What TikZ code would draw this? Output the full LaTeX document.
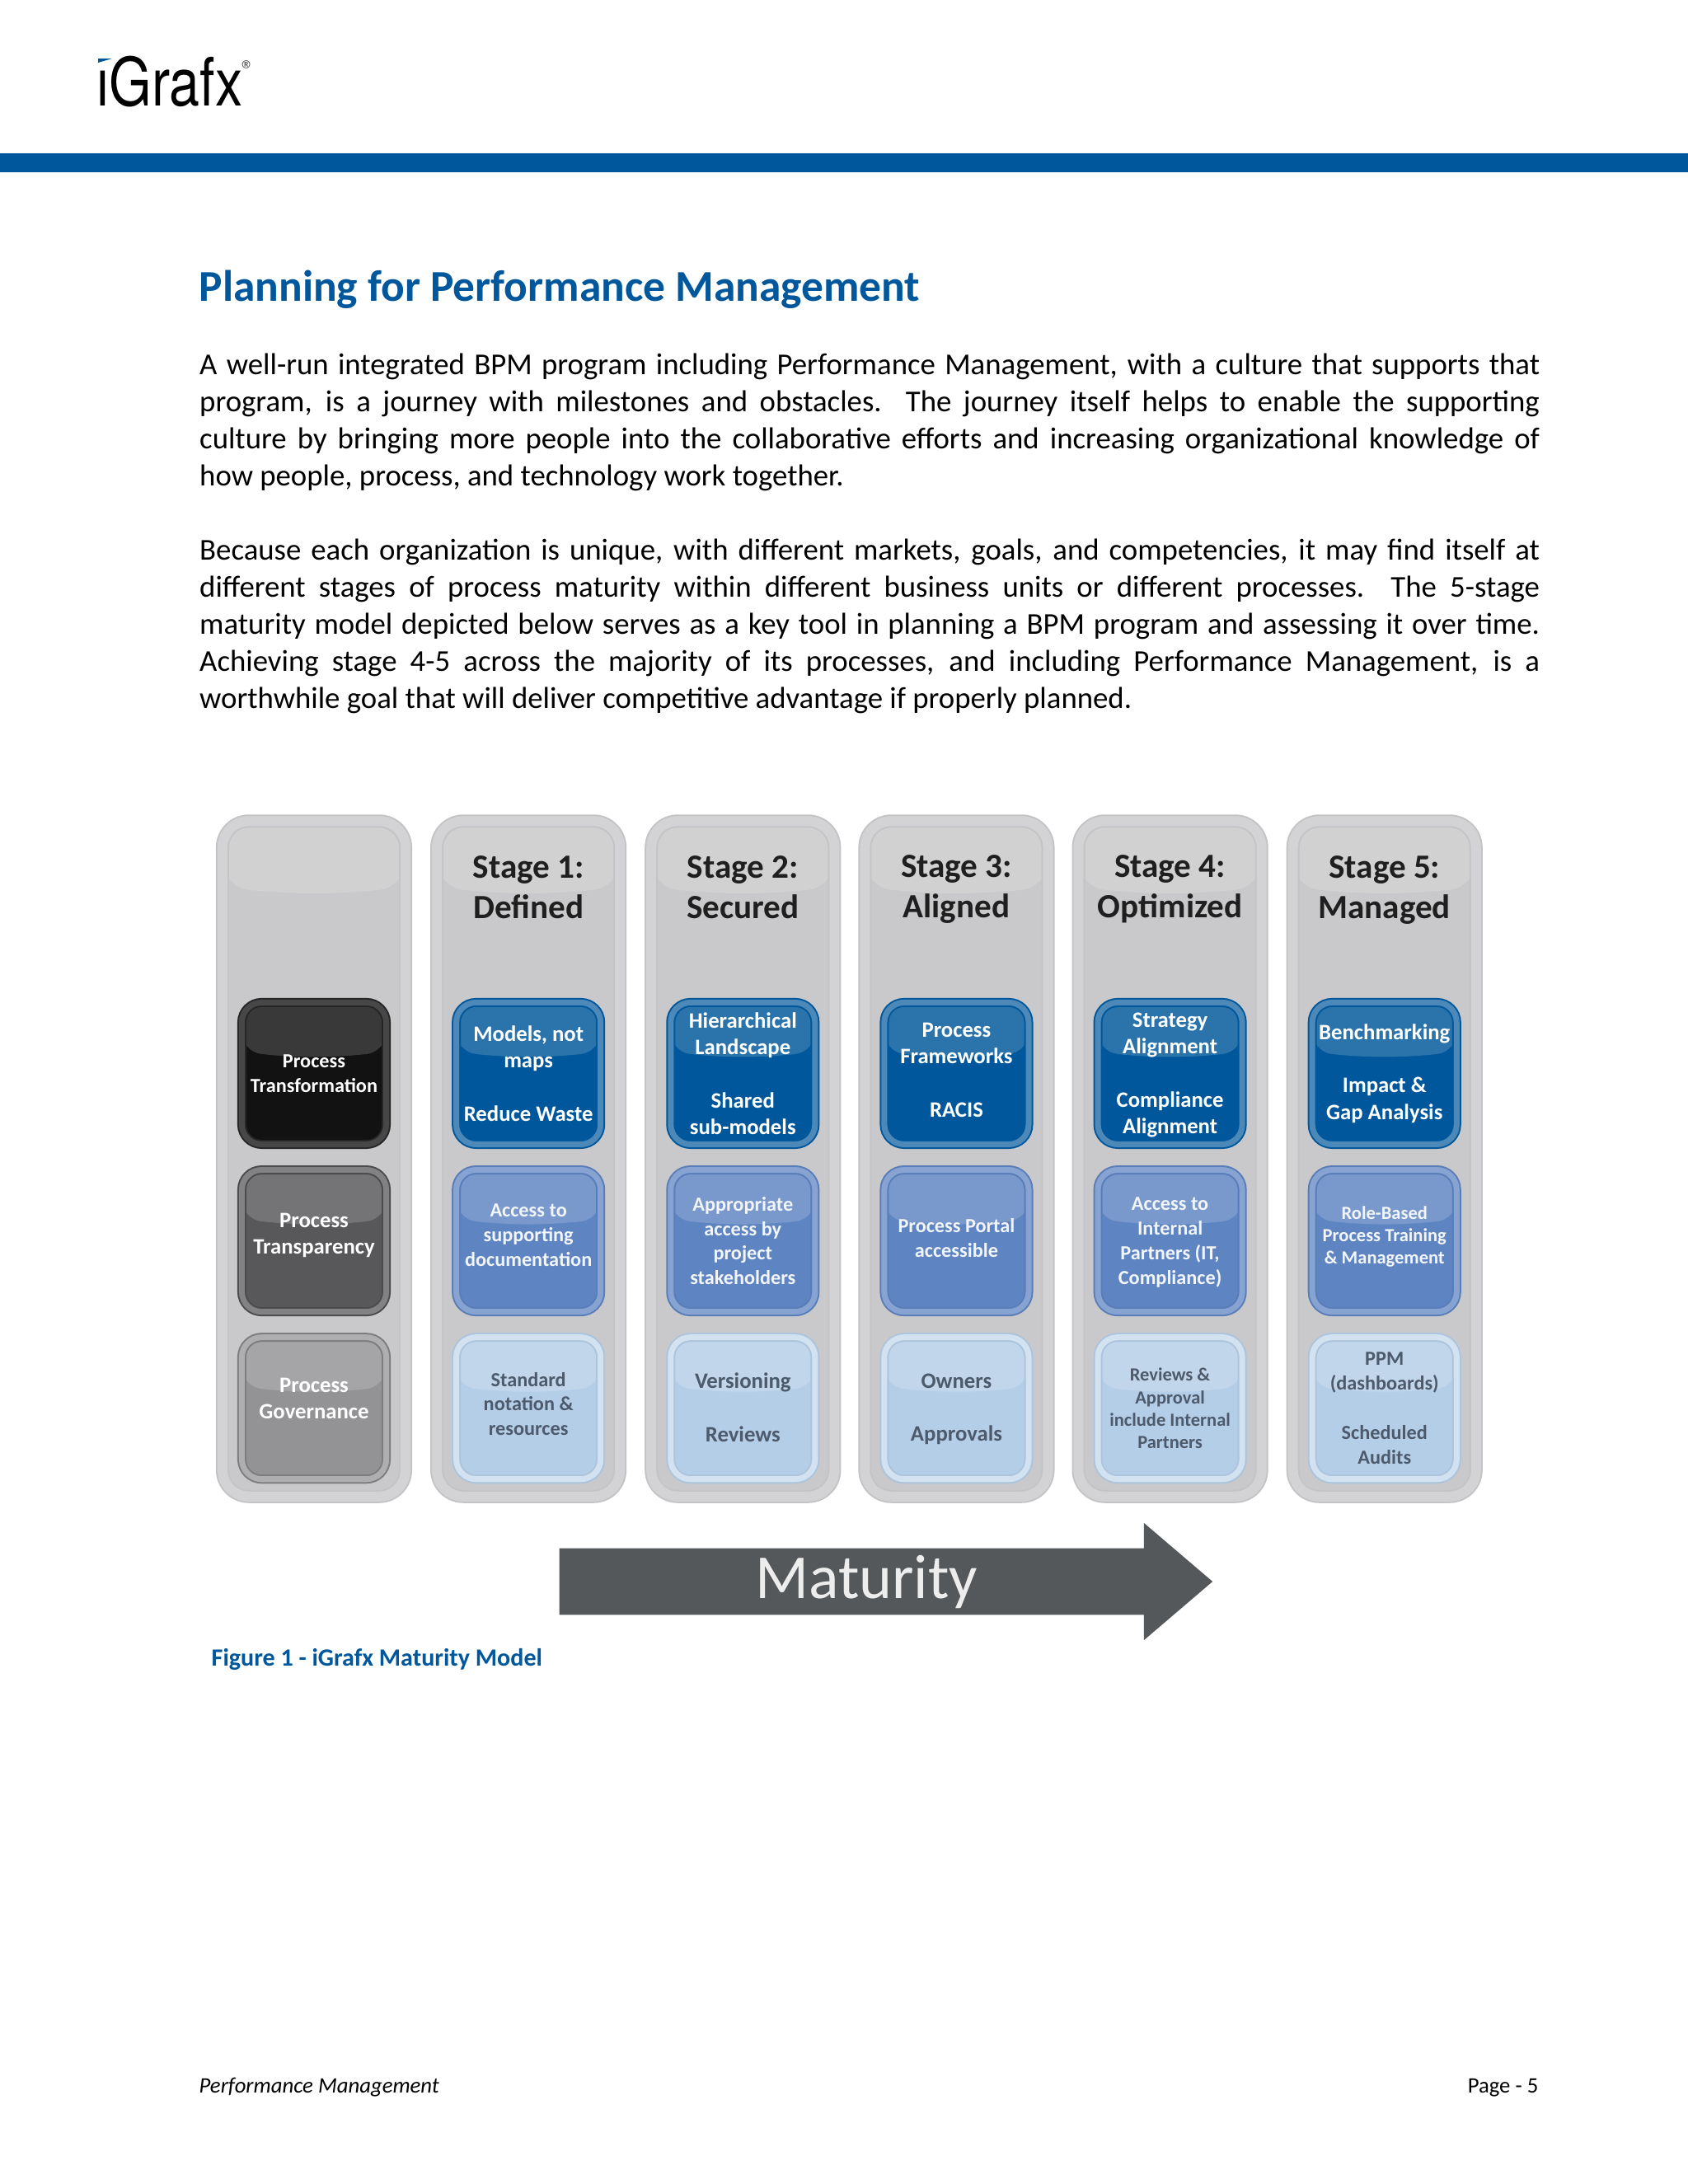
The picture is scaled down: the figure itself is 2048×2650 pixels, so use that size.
\documentclass[tikz,border=0pt]{standalone}
\usepackage{fontspec}
\setmainfont{Carlito}
\newfontfamily\logofont{TeX Gyre Heros}
\usetikzlibrary{positioning, shapes.arrows, calc}

\definecolor{brandblue}{HTML}{00579B}
\definecolor{colfill}{HTML}{C9C8CA}
\definecolor{colrim}{HTML}{D3D2D4}
\definecolor{coledge}{HTML}{C4C3C5}
\definecolor{arrowgrey}{HTML}{54585A}
\definecolor{midblue}{HTML}{5E84C2}
\definecolor{lowblue}{HTML}{B5CEE8}
\definecolor{lowtext}{HTML}{4C5A6B}
\definecolor{midgrey}{HTML}{58585B}
\definecolor{lowgrey}{HTML}{939396}

\begin{document}
\begin{tikzpicture}[
  x=0.01cm, y=-0.01cm,
  gloss/.style={path picture={
    \fill[white, opacity=0.17]
      (path picture bounding box.north west)
      -- ([yshift=-#1]path picture bounding box.north west)
      to[bend right=6] ([yshift=-#1]path picture bounding box.north east)
      -- (path picture bounding box.north east) -- cycle;}},
  stagecol/.style={draw=coledge, fill=colfill, line width=0.02cm, double=colrim, double distance=0.12cm,
    rounded corners=0.32cm, minimum width=2.22cm, minimum height=8.19cm, outer sep=0pt, gloss=0.8cm},
  cellbox/.style={line width=0.02cm, double distance=0.07cm, rounded corners=0.24cm,
    minimum width=1.75cm, minimum height=1.72cm, outer sep=0pt, inner sep=0pt, align=center, gloss=0.6cm},
  transform/.style={cellbox, draw=black!85, fill=black!93, double=black!72, text=white},
  transpar/.style={cellbox, draw=midgrey!85!black, fill=midgrey, double=midgrey!75!white, text=white, text depth=4.8pt},
  govern/.style={cellbox, draw=lowgrey!85!black, fill=lowgrey, double=lowgrey!75!white, text=white, text depth=6.8pt},
  bluecell/.style={cellbox, draw=brandblue, fill=brandblue, double=brandblue!70!white, text=white},
  midcell/.style={cellbox, draw=midblue!95!black, fill=midblue, double=midblue!75!white, text=white!92!midblue},
  lightcell/.style={cellbox, draw=lowblue!95!black, fill=lowblue, double=lowblue!60!white, text=lowtext, text depth=0pt},
  toplabel/.style={font=\fontsize{7.6}{9.2}\selectfont\bfseries},
  midlabel/.style={font=\fontsize{6.9}{8.5}\selectfont\bfseries},
  tinylabel/.style={font=\fontsize{6.4}{7.7}\selectfont\bfseries},
  stagehead/.style={font=\fontsize{11.7}{13.9}\selectfont\bfseries, text=black!88, align=center, inner sep=0pt, text depth=0pt},
  bodytext/.style={anchor=north west, inner sep=0pt, text width=16.25cm, align=justify,
    font=\fontsize{10.46}{12.8}\selectfont},
]
\useasboundingbox (0,0) rectangle (2048,2650);

% header
\fill[brandblue] (0,186) rectangle (2048,209);
\node[anchor=base west, inner sep=0pt, font=\logofont\fontsize{23}{23}\selectfont] (logo) at (117,128) {\scalebox{0.82}[1]{ıGrafx}};
\fill[brandblue] (119,71) -- (136,71) -- (119,76) -- cycle;
\node[inner sep=0pt, font=\fontsize{9}{9}\selectfont, text=black!70] (reg) at (301,85) {®};

% text
\node[anchor=base west, inner sep=0pt, font=\fontsize{15.2}{18}\selectfont\bfseries, text=brandblue] (title) at (241,365) {Planning for Performance Management};
\node[bodytext] (para1) at (241.5,428) {A well-run integrated BPM program including Performance Management, with a culture that supports that\linebreak
program, is a journey with milestones and obstacles.\ \ The journey itself helps to enable the supporting\linebreak
culture by bringing more people into the collaborative efforts and increasing organizational knowledge of\linebreak
how people, process, and technology work together.};
\node[bodytext, below=0.566cm of para1.south west, anchor=north west] (para2) {Because each organization is unique, with different markets, goals, and competencies, it may find itself at\linebreak
different stages of process maturity within different business units or different processes.\ \ The 5-stage\linebreak
maturity model depicted below serves as a key tool in planning a BPM program and assessing it over time.\linebreak
Achieving stage 4-5 across the majority of its processes, and including Performance Management, is a\linebreak
worthwhile goal that will deliver competitive advantage if properly planned.};

% columns
\node[stagecol] (col0) at (381,1406) {};
\node[stagecol, right=0.38cm of col0] (col1) {};
\node[stagecol, right=0.38cm of col1] (col2) {};
\node[stagecol, right=0.37cm of col2] (col3) {};
\node[stagecol, right=0.37cm of col3] (col4) {};
\node[stagecol, right=0.38cm of col4] (col5) {};

\node[stagehead] (head1) at ([yshift=-0.8cm]col1.north) {Stage 1:\\Defined};
\node[stagehead] (head2) at ([yshift=-0.8cm]col2.north) {Stage 2:\\Secured};
\node[stagehead] (head3) at ([yshift=-0.79cm]col3.north) {Stage 3:\\Aligned};
\node[stagehead] (head4) at ([yshift=-0.79cm]col4.north) {Stage 4:\\Optimized};
\node[stagehead] (head5) at ([yshift=-0.8cm]col5.north) {Stage 5:\\Managed};

% row names
\node[transform, midlabel, below=2.2cm of col0.north] (rowtrans) {Process\\Transformation};
\node[transpar, toplabel, below=0.31cm of rowtrans] (rowtransp) {Process\\Transparency};
\node[govern, toplabel, below=0.31cm of rowtransp] (rowgov) {Process\\Governance};

% stage 1
\node[bluecell, toplabel, below=2.2cm of col1.north] (top1) {Models, not\\maps\\~\\Reduce Waste};
\node[midcell, midlabel, text depth=4pt, below=0.31cm of top1] (mid1) {Access to\\supporting\\documentation};
\node[lightcell, midlabel, text depth=3pt, below=0.31cm of mid1] (low1) {Standard\\notation \&\\resources};
% stage 2
\node[bluecell, toplabel, below=2.2cm of col2.north] (top2) {Hierarchical\\Landscape\\~\\Shared\\sub-models};
\node[midcell, midlabel, below=0.31cm of top2] (mid2) {Appropriate\\access by\\project\\stakeholders};
\node[lightcell, toplabel, text depth=0.6pt, below=0.31cm of mid2] (low2) {Versioning\\~\\Reviews};
% stage 3
\node[bluecell, toplabel, text depth=2.4pt, below=2.2cm of col3.north] (top3) {Process\\Frameworks\\~\\RACIS};
\node[midcell, midlabel, text depth=2pt, below=0.31cm of top3] (mid3) {Process Portal\\accessible};
\node[lightcell, toplabel, text depth=0.6pt, below=0.31cm of mid3] (low3) {Owners\\~\\Approvals};
% stage 4
\node[bluecell, toplabel, text depth=0pt, below=2.2cm of col4.north] (top4) {Strategy\\Alignment\\~\\Compliance\\Alignment};
\node[midcell, midlabel, text depth=0pt, below=0.31cm of top4] (mid4) {Access to\\Internal\\Partners (IT,\\Compliance)};
\node[lightcell, tinylabel, below=0.31cm of mid4] (low4) {Reviews \&\\Approval\\include Internal\\Partners};
% stage 5
\node[bluecell, toplabel, below=2.2cm of col5.north] (top5) {Benchmarking\\~\\Impact \&\\Gap Analysis};
\node[midcell, tinylabel, text depth=4pt, below=0.31cm of top5] (mid5) {Role-Based\\Process Training\\\& Management};
\node[lightcell, midlabel, below=0.31cm of mid5] (low5) {PPM\\(dashboards)\\~\\Scheduled\\Audits};

% arrow
\node[single arrow, anchor=tail, fill=arrowgrey, text=white!93!black, inner sep=0pt, minimum height=7.92cm, minimum width=1.42cm,
  single arrow head extend=0.25cm, single arrow head indent=0pt, single arrow tip angle=81,
  font=\fontsize{21.6}{21}\selectfont] (maturity) at (678,1919) {\raisebox{-0.05cm}{Maturity}};

% caption and footer
\node[anchor=base west, inner sep=0pt, font=\fontsize{8.55}{11}\selectfont\bfseries, text=brandblue] (caption) at (256,2021) {Figure 1 - iGrafx Maturity Model};
\node[anchor=base west, inner sep=0pt, font=\fontsize{7.6}{10}\selectfont\itshape] (footleft) at (241,2539) {Performance Management};
\node[anchor=base east, inner sep=0pt, font=\fontsize{7.6}{10}\selectfont] (footright) at (1867,2539) {Page - 5};
\end{tikzpicture}
\end{document}
